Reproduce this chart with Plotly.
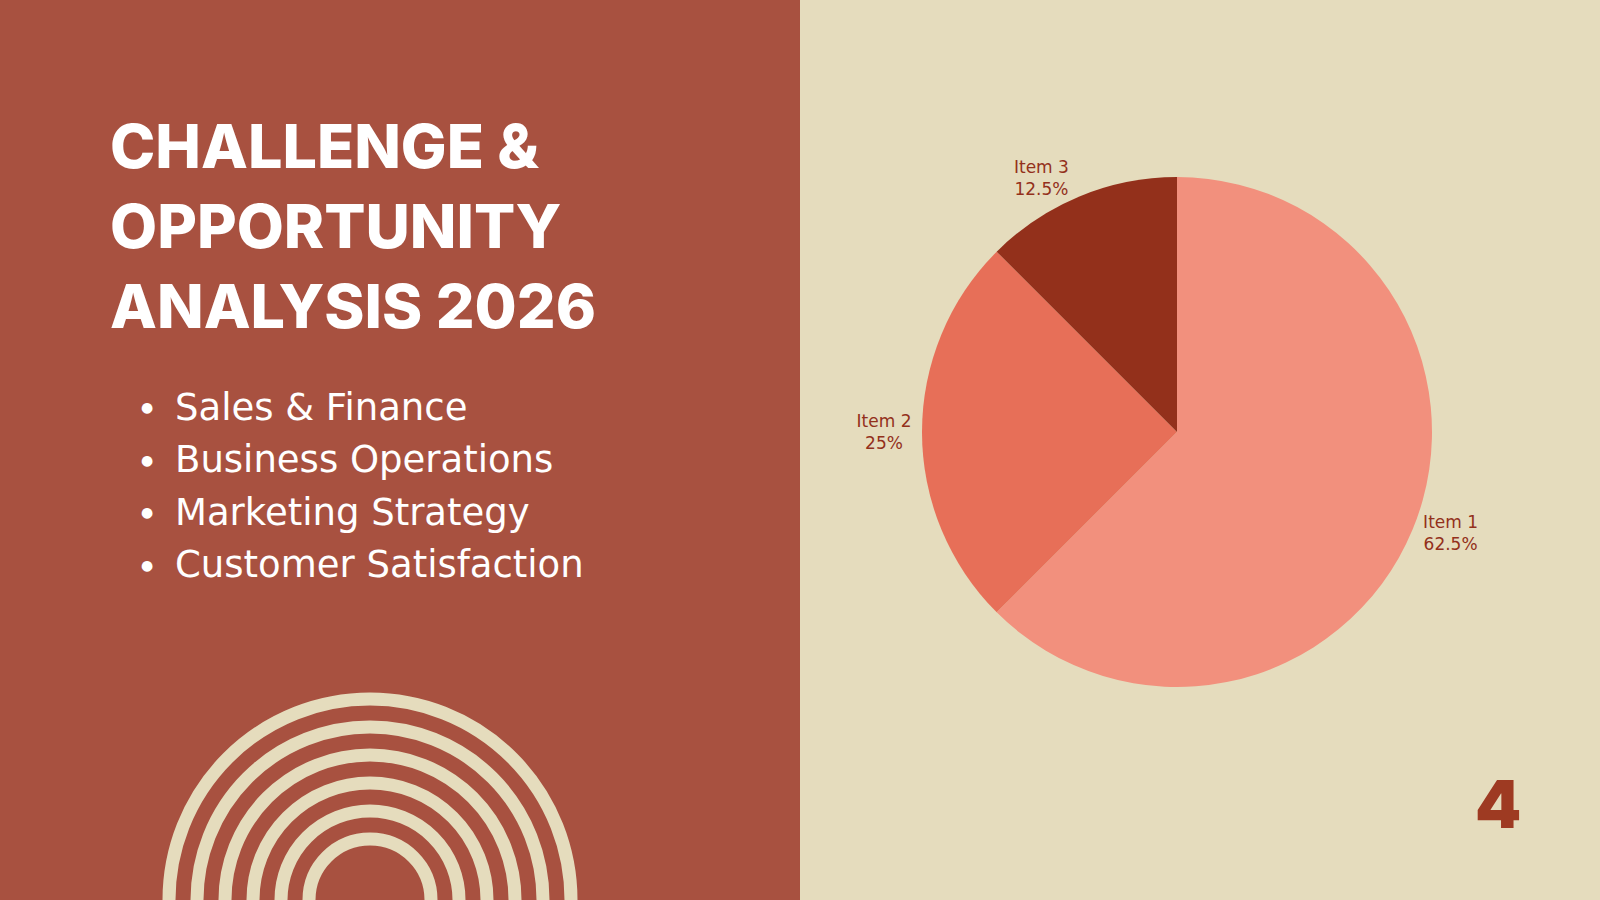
import plotly.graph_objects as go

# slide data
title_lines = ["CHALLENGE &", "OPPORTUNITY", "ANALYSIS 2026"]
bullets = ["Sales & Finance", "Business Operations", "Marketing Strategy", "Customer Satisfaction"]
labels = ["Item 1", "Item 2", "Item 3"]
values = [62.5, 25, 12.5]
page_no = "4"

W, H = 1600, 900
red = "#A85140"
cream = "#E5DCBD"
dark = "#93301B"
pie_colors = ["#F2907D", "#E76F58", "#93301B"]

fig = go.Figure()

# pie, centre (1177, 432) radius 255 px
cx, cy, r = 1177, 432, 255
fig.add_trace(go.Pie(
    labels=labels, values=values, sort=False, direction="clockwise", rotation=0,
    marker=dict(colors=pie_colors, line=dict(width=0)),
    textposition="outside",
    textfont=dict(family="DejaVu Sans", size=17, color=dark),
    texttemplate="%{label}<br>%{percent:.3~p}",
    domain=dict(x=[(cx - r) / W, (cx + r) / W], y=[1 - (cy + r) / H, 1 - (cy - r) / H]),
    showlegend=False, hoverinfo="skip",
))

shapes = [dict(type="rect", xref="paper", yref="paper", x0=0, x1=0.5, y0=0, y1=1,
               fillcolor=red, line=dict(width=0), layer="below")]

# concentric arcs bottom left
ax, ay = 370, 900
for rr in [201, 173, 145, 117, 89, 61]:
    shapes.append(dict(type="circle", xref="paper", yref="paper",
                       x0=(ax - rr) / W, x1=(ax + rr) / W,
                       y0=(H - ay - rr) / H, y1=(H - ay + rr) / H,
                       line=dict(color=cream, width=13), layer="above"))

annotations = []
for i, t in enumerate(title_lines):
    annotations.append(dict(text=t, x=108 / W, y=1 - (146 + i * 80) / H, xref="paper", yref="paper",
                            xanchor="left", yanchor="middle", showarrow=False,
                            font=dict(family="Inter", size=61, color="white", weight=800)))
for i, b in enumerate(bullets):
    yy = 1 - (407 + i * 52.5) / H
    annotations.append(dict(text="●", x=147 / W, y=yy, xref="paper", yref="paper",
                            xanchor="center", yanchor="middle", showarrow=False,
                            font=dict(family="DejaVu Sans", size=14, color="white")))
    annotations.append(dict(text=b, x=173 / W, y=yy, xref="paper", yref="paper",
                            xanchor="left", yanchor="middle", showarrow=False,
                            font=dict(family="DejaVu Sans", size=37, color="white")))
annotations.append(dict(text=page_no, x=1498 / W, y=1 - 804 / H, xref="paper", yref="paper",
                        xanchor="center", yanchor="middle", showarrow=False,
                        font=dict(family="Inter", size=66, color="#9E3A22", weight=900)))

fig.update_layout(
    width=W, height=H, margin=dict(l=0, r=0, t=0, b=0),
    paper_bgcolor=cream, plot_bgcolor=cream,
    shapes=shapes, annotations=annotations,
)

fig.write_html("out.html", config={"displayModeBar": False},
               post_script="document.body.style.margin='0';")
